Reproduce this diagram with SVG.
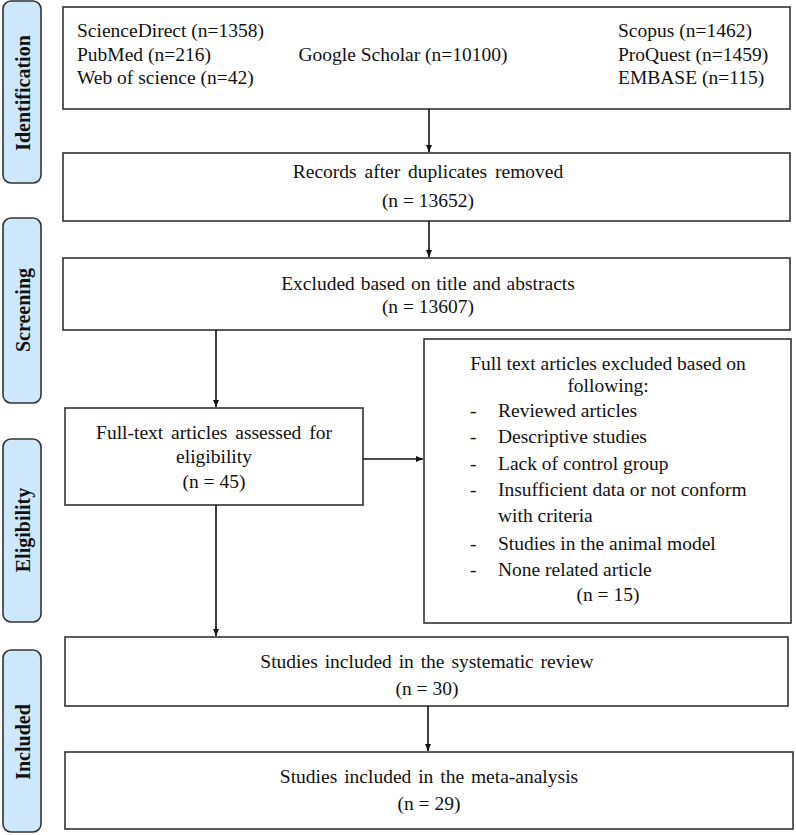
<svg xmlns="http://www.w3.org/2000/svg" width="796" height="835" viewBox="0 0 796 835">
<defs>
<style>
.box{fill:#fff;stroke:#333;stroke-width:1.6}
.lab{fill:#cde8fa;stroke:#333;stroke-width:1.6}
.t{font-family:"Liberation Serif","Times New Roman",serif;font-size:19.5px;fill:#111}
.c{text-anchor:middle}
.lt{font-family:"Liberation Serif","Times New Roman",serif;font-size:20px;font-weight:bold;fill:#111;text-anchor:middle;dominant-baseline:central}
.ln{stroke:#111;stroke-width:1.6;fill:none}
</style>
<marker id="ah" markerWidth="8" markerHeight="8" refX="7" refY="4" orient="auto" markerUnits="userSpaceOnUse">
<path d="M0,1 L7,4 L0,7 Z" fill="#111"/>
</marker>
</defs>
<rect width="796" height="835" fill="#fff"/>

<g id="label-identification">
<rect class="lab" x="3" y="1" width="38" height="182" rx="8"/>
<text class="lt" transform="translate(23,93) rotate(-90)">Identification</text>
</g>
<g id="label-screening">
<rect class="lab" x="3" y="218" width="38" height="185" rx="8"/>
<text class="lt" transform="translate(23,310) rotate(-90)">Screening</text>
</g>
<g id="label-eligibility">
<rect class="lab" x="3" y="439" width="38" height="183" rx="8"/>
<text class="lt" transform="translate(23,530) rotate(-90)">Eligibility</text>
</g>
<g id="label-included">
<rect class="lab" x="3" y="650" width="38" height="182" rx="8"/>
<text class="lt" transform="translate(23,742) rotate(-90)">Included</text>
</g>

<g id="sources">
<rect class="box" x="63" y="7" width="727" height="102"/>
<text class="t" x="77" y="37">ScienceDirect  (n=1358)</text>
<text class="t" x="77" y="61">PubMed (n=216)</text>
<text class="t" x="77" y="84">Web of science  (n=42)</text>
<text class="t c" x="403" y="61">Google Scholar (n=10100)</text>
<text class="t" x="618" y="37">Scopus (n=1462)</text>
<text class="t" x="618" y="61">ProQuest (n=1459)</text>
<text class="t" x="618" y="84">EMBASE (n=115)</text>
</g>

<g id="records">
<rect class="box" x="63" y="153" width="727" height="68"/>
<text class="t c" x="428" y="178" word-spacing="3">Records after duplicates removed</text>
<text class="t c" x="428" y="207">(n = 13652)</text>
</g>

<g id="excluded-title">
<rect class="box" x="63" y="258" width="727" height="72"/>
<text class="t c" x="428" y="290" word-spacing="1">Excluded based on title and abstracts</text>
<text class="t c" x="428" y="313">(n = 13607)</text>
</g>

<g id="fulltext">
<rect class="box" x="65" y="408" width="298" height="97"/>
<text class="t c" x="214" y="439" word-spacing="3">Full-text articles assessed for</text>
<text class="t c" x="214" y="463">eligibility</text>
<text class="t c" x="214" y="488">(n = 45)</text>
</g>

<g id="excluded-fulltext">
<rect class="box" x="424" y="339" width="367" height="284"/>
<text class="t c" x="608" y="370">Full text articles excluded based on</text>
<text class="t c" x="608" y="392">following:</text>
<text class="t" x="470" y="417">-</text><text class="t" x="498" y="417">Reviewed articles</text>
<text class="t" x="470" y="443">-</text><text class="t" x="498" y="443">Descriptive studies</text>
<text class="t" x="470" y="470">-</text><text class="t" x="498" y="470">Lack of control group</text>
<text class="t" x="470" y="496">-</text><text class="t" x="498" y="496">Insufficient data or not conform</text>
<text class="t" x="498" y="522">with criteria</text>
<text class="t" x="470" y="550">-</text><text class="t" x="498" y="550">Studies in the animal model</text>
<text class="t" x="470" y="576">-</text><text class="t" x="498" y="576">None related article</text>
<text class="t c" x="608" y="601">(n = 15)</text>
</g>

<g id="systematic">
<rect class="box" x="65" y="637" width="723" height="69"/>
<text class="t c" x="427" y="668" word-spacing="2">Studies included in the systematic review</text>
<text class="t c" x="427" y="695">(n = 30)</text>
</g>

<g id="meta">
<rect class="box" x="65" y="752" width="728" height="77"/>
<text class="t c" x="429" y="783" word-spacing="2">Studies included in the meta-analysis</text>
<text class="t c" x="429" y="810">(n = 29)</text>
</g>

<g id="connectors">
<line class="ln" x1="429" y1="109" x2="429" y2="152" marker-end="url(#ah)"/>
<line class="ln" x1="429" y1="221" x2="429" y2="257" marker-end="url(#ah)"/>
<line class="ln" x1="216" y1="330" x2="216" y2="407" marker-end="url(#ah)"/>
<line class="ln" x1="363" y1="459" x2="423" y2="459" marker-end="url(#ah)"/>
<line class="ln" x1="216" y1="505" x2="216" y2="636" marker-end="url(#ah)"/>
<line class="ln" x1="428" y1="706" x2="428" y2="751" marker-end="url(#ah)"/>
</g>
</svg>
